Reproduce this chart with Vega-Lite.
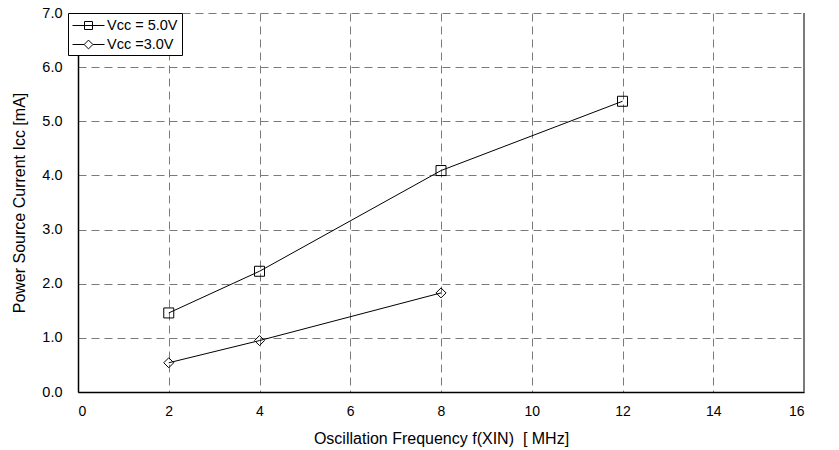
{
  "$schema": "https://vega.github.io/schema/vega-lite/v6.json",
  "width": 726,
  "height": 379,
  "autosize": {"type": "none"},
  "padding": {"left": 78, "top": 13, "right": 35, "bottom": 58},
  "background": "white",
  "config": {
    "font": "Liberation Sans",
    "view": {"stroke": null},
    "axis": {
      "grid": true,
      "gridColor": "#7a7a7a",
      "gridDash": [8, 5],
      "gridWidth": 1,
      "domainColor": "black",
      "domainWidth": 1.5,
      "ticks": false,
      "labelColor": "black",
      "titleFontSize": 16,
      "titleFontWeight": "normal",
      "titleColor": "black"
    }
  },
  "data": {
    "values": [
      {"f": 2, "icc": 1.46, "series": "Vcc = 5.0V"},
      {"f": 4, "icc": 2.23, "series": "Vcc = 5.0V"},
      {"f": 8, "icc": 4.09, "series": "Vcc = 5.0V"},
      {"f": 12, "icc": 5.37, "series": "Vcc = 5.0V"},
      {"f": 2, "icc": 0.54, "series": "Vcc =3.0V"},
      {"f": 4, "icc": 0.95, "series": "Vcc =3.0V"},
      {"f": 8, "icc": 1.83, "series": "Vcc =3.0V"}
    ]
  },
  "resolve": {"scale": {"shape": "independent"}, "legend": {"shape": "independent"}},
  "layer": [
    {
      "mark": {"type": "rule", "color": "#7a7a7a", "strokeWidth": 1},
      "encoding": {"x": {"datum": 16, "type": "quantitative"}}
    },
    {
      "mark": {"type": "line", "color": "black", "strokeWidth": 1},
      "encoding": {
        "x": {
          "field": "f",
          "type": "quantitative",
          "scale": {"domain": [0, 16], "nice": false},
          "axis": {
            "values": [0, 2, 4, 6, 8, 10, 12, 14, 16],
            "title": "Oscillation Frequency f(XIN)\u00a0\u00a0[ MHz]",
            "labelFontSize": 14,
            "labelPadding": 12,
            "titlePadding": 12
          }
        },
        "y": {
          "field": "icc",
          "type": "quantitative",
          "scale": {"domain": [0, 7], "nice": false},
          "axis": {
            "values": [0, 1, 2, 3, 4, 5, 6, 7],
            "format": ".1f",
            "title": "Power Source Current Icc [mA]",
            "labelFontSize": 14.5,
            "labelPadding": 16,
            "titlePadding": 14
          }
        },
        "detail": {"field": "series"}
      }
    },
    {
      "mark": {"type": "point", "filled": false, "stroke": "black", "strokeWidth": 1, "size": 100, "opacity": 1},
      "encoding": {
        "x": {"field": "f", "type": "quantitative"},
        "y": {"field": "icc", "type": "quantitative"},
        "shape": {
          "field": "series",
          "type": "nominal",
          "scale": {"domain": ["Vcc = 5.0V", "Vcc =3.0V"], "range": ["square", "M-1,0L0,-1L1,0L0,1Z"]},
          "legend": null
        }
      }
    },
    {
      "mark": {"type": "point", "filled": false, "stroke": "black", "strokeWidth": 1, "opacity": 0},
      "encoding": {
        "x": {"field": "f", "type": "quantitative"},
        "y": {"field": "icc", "type": "quantitative"},
        "shape": {
          "field": "series",
          "type": "nominal",
          "scale": {"domain": ["Vcc = 5.0V", "Vcc =3.0V"], "range": ["M-1,0L3,0M0.5,-0.5L1.5,-0.5L1.5,0.5L0.5,0.5Z", "M-1,0L0.45,0M1.55,0L3,0M0.45,0L1,-0.55L1.55,0L1,0.55Z"]},
          "legend": {
            "title": null,
            "orient": "none",
            "legendX": -10,
            "legendY": 0,
            "strokeColor": "black",
            "fillColor": "white",
            "padding": 4,
            "labelFontSize": 14.5,
            "labelColor": "black",
            "symbolSize": 256,
            "symbolOpacity": 1,
            "symbolStrokeColor": "black",
            "symbolStrokeWidth": 1,
            "rowPadding": 4,
            "labelOffset": 18
          }
        }
      }
    }
  ]
}
